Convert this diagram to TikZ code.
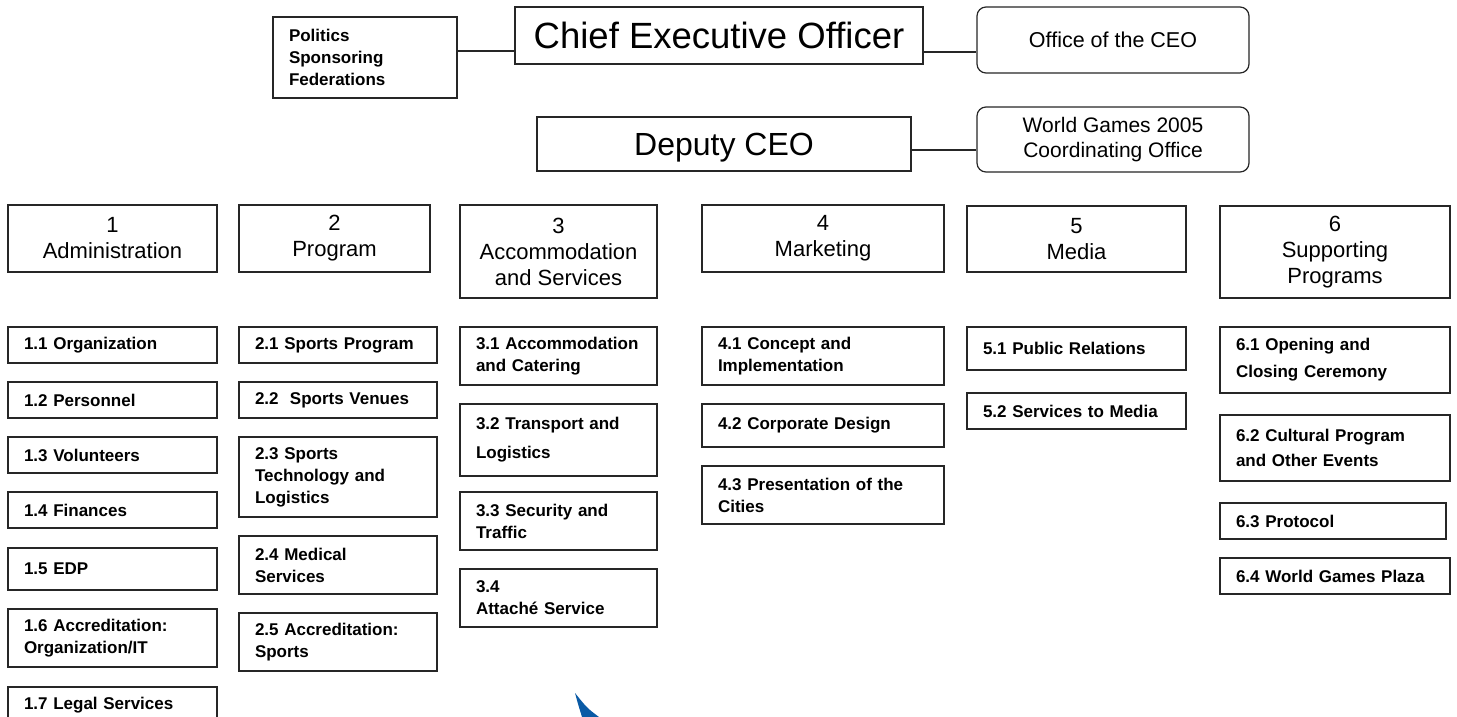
\documentclass[tikz,border=0pt]{standalone}
\usepackage{fontspec}
\setmainfont{Liberation Sans}
\begin{document}
\begin{tikzpicture}[x=1pt,y=-1pt,
  box/.style={draw=black!85, line width=1.2pt, fill=white, inner sep=0pt},
  rbox/.style={box, rounded corners=9pt, align=center},
  topbox/.style={box, align=center, text depth=0pt, font=\fontsize{36.5}{40}\selectfont},
  headbox/.style={box, align=center, font=\fontsize{22}{26}\selectfont},
  subbox/.style={box, inner xsep=16pt, align=left, font=\bfseries\fontsize{17}{22}\selectfont},
  conn/.style={draw=black!85, line width=1.2pt},
  swoosh/.style={fill={rgb,255:red,10;green,90;blue,165}}
]
\useasboundingbox (0,0) rectangle (1457,717);
\clip (0,0) rectangle (1457,717);

% top level
\node[subbox, text width=152pt, minimum height=81pt] (pol) at (365,57.5) {Politics\\Sponsoring\\Federations};
\node[topbox, minimum width=408pt, minimum height=57pt] (ceo) at (719,35.5) {Chief Executive Officer};
\node[rbox, minimum width=272pt, minimum height=66pt, font=\fontsize{21.5}{25}\selectfont] (off) at (1113,40) {Office of the CEO};
\node[topbox, minimum width=374pt, minimum height=54pt, font=\fontsize{32}{36}\selectfont] (dep) at (724,144) {Deputy CEO};
\node[rbox, minimum width=272pt, minimum height=65pt, font=\fontsize{21}{25}\selectfont] (wg) at (1113,139.5) {World Games 2005\\Coordinating Office};

\draw[conn] ([yshift=6.5pt]pol.east) coordinate (p1) -- (p1 -| ceo.west);
\draw[conn] ([yshift=-16.5pt]ceo.east) coordinate (p2) -- (p2 -| off.west);
\draw[conn] ([yshift=-6pt]dep.east) coordinate (p3) -- (p3 -| wg.west);

% departments
\node[headbox, minimum width=209pt, minimum height=67pt] (d1) at (112.5,238.5) {1\\Administration};
\node[headbox, minimum width=191pt, minimum height=67pt] (d2) at (334.5,238.5) {2\\Program};
\node[headbox, minimum width=197pt, minimum height=93pt] (d3) at (558.5,251.5) {3\\Accommodation\\and Services};
\node[headbox, minimum width=242pt, minimum height=67pt] (d4) at (823,238.5) {4\\Marketing};
\node[headbox, minimum width=219pt, minimum height=66pt] (d5) at (1076.5,239) {5\\Media};
\node[headbox, minimum width=230pt, minimum height=92pt] (d6) at (1335,252) {6\\Supporting\\Programs};

% column 1
\node[subbox, text width=177pt, minimum height=36pt] (s11) at (112.5,345) {1.1 Organization};
\node[subbox, text width=177pt, minimum height=36pt] (s12) at (112.5,400) {1.2 Personnel};
\node[subbox, text width=177pt, minimum height=36pt] (s13) at (112.5,455) {1.3 Volunteers};
\node[subbox, text width=177pt, minimum height=36pt] (s14) at (112.5,510) {1.4 Finances};
\node[subbox, text width=177pt, minimum height=42pt] (s15) at (112.5,569) {1.5 EDP};
\node[subbox, text width=177pt, minimum height=58pt] (s16) at (112.5,638) {1.6 Accreditation:\\Organization/IT};
\node[subbox, text width=177pt, minimum height=36pt] (s17) at (112.5,705) {1.7 Legal Services};

% column 2
\node[subbox, text width=166pt, minimum height=36pt] (s21) at (338,345) {2.1 Sports Program};
\node[subbox, text width=166pt, minimum height=36pt] (s22) at (338,400) {2.2\ \ Sports Venues};
\node[subbox, text width=166pt, minimum height=80pt] (s23) at (338,477) {2.3 Sports\\Technology and\\Logistics};
\node[subbox, text width=166pt, minimum height=58pt] (s24) at (338,565) {2.4 Medical\\Services};
\node[subbox, text width=166pt, minimum height=58pt] (s25) at (338,642) {2.5 Accreditation:\\Sports};

% column 3
\node[subbox, text width=165pt, minimum height=58pt] (s31) at (558.5,356) {3.1 Accommodation\\and Catering};
\node[subbox, text width=165pt, minimum height=72pt] (s32) at (558.5,440) {3.2 Transport and\\[7pt]Logistics};
\node[subbox, text width=165pt, minimum height=58pt] (s33) at (558.5,521) {3.3 Security and\\Traffic};
\node[subbox, text width=165pt, minimum height=58pt] (s34) at (558.5,598) {3.4\\Attaché Service};

% column 4
\node[subbox, text width=210pt, minimum height=58pt] (s41) at (823,356) {4.1 Concept and\\Implementation};
\node[subbox, text width=210pt, minimum height=43pt] (s42) at (823,425.5) {4.2 Corporate Design};
\node[subbox, text width=210pt, minimum height=58pt] (s43) at (823,495) {4.3 Presentation of the\\Cities};

% column 5
\node[subbox, text width=187pt, minimum height=43pt] (s51) at (1076.5,348.5) {5.1 Public Relations};
\node[subbox, text width=187pt, minimum height=36pt] (s52) at (1076.5,411) {5.2 Services to Media};

% column 6
\node[subbox, text width=198pt, minimum height=66pt] (s61) at (1335,360) {6.1 Opening and\\[5pt]Closing Ceremony};
\node[subbox, text width=198pt, minimum height=66pt] (s62) at (1335,448) {6.2 Cultural Program\\[3pt]and Other Events};
\node[subbox, text width=194pt, minimum height=36pt] (s63) at (1333,521) {6.3 Protocol};
\node[subbox, text width=198pt, minimum height=36pt] (s64) at (1335,576) {6.4 World Games Plaza};

% blue swoosh fragment
\fill[swoosh] (575,693) .. controls (578,704) .. (582,717) -- (599,717) .. controls (587,708) .. (575,693) -- cycle;
\end{tikzpicture}
\end{document}
